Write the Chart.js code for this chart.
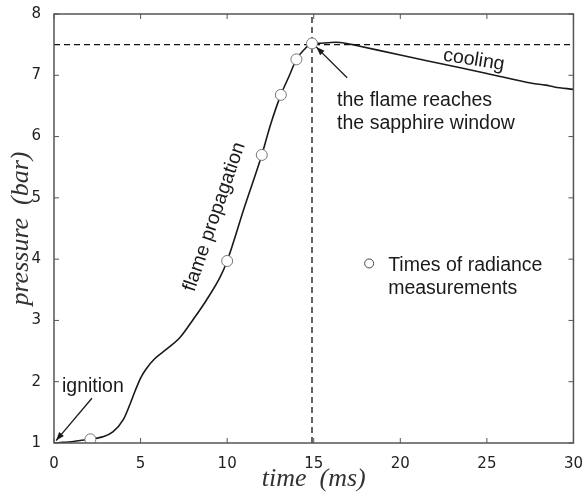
<!DOCTYPE html>
<html lang="en">
  <head>
    <meta charset="UTF-8" />
    <title>Pressure vs time</title>
    <script src="https://cdn.jsdelivr.net/npm/chart.js@4.4.0/dist/chart.umd.min.js"></script>
    <style>
      body { margin: 0; background: #fff; }
    </style>
  </head>
  <body>
    <canvas id="myChart" width="587" height="497"></canvas>

    <script>
      // pressure trace
      const timeMs = [0, 0.5, 1, 1.5, 2.1, 2.8, 3.4, 4.0, 4.4, 4.7, 5.0, 5.3, 5.8, 6.5, 7.3, 8.0, 8.8, 9.6, 10.0, 11.0, 12.0, 12.5, 13.1, 13.6, 14.0, 14.45, 14.9, 15.3, 15.8, 16.3, 16.9, 17.4, 20, 22.5, 25, 27.6, 28.4, 28.9, 30];
      const pressureBar = [1.0, 1.01, 1.02, 1.04, 1.06, 1.1, 1.18, 1.38, 1.64, 1.86, 2.06, 2.2, 2.37, 2.53, 2.73, 3.0, 3.33, 3.71, 3.97, 4.85, 5.7, 6.19, 6.68, 7.0, 7.26, 7.42, 7.52, 7.52, 7.53, 7.54, 7.52, 7.49, 7.33, 7.18, 7.03, 6.87, 6.84, 6.81, 6.77];

      // times of radiance measurements
      const measTimes = [2.1, 10, 12, 13.1, 14, 14.9];
      const measPressure = [1.06, 3.97, 5.7, 6.68, 7.26, 7.52];

      // flame reaches the window
      const peakTime = 14.9;
      const peakPressure = 7.5;

      const xTicks = [0, 5, 10, 15, 20, 25, 30];
      const yTicks = [1, 2, 3, 4, 5, 6, 7, 8];

      const textFont = '19.5px "Liberation Sans", Arial, sans-serif';

      const toPts = (xs, ys) => xs.map((x, i) => ({ x: x, y: ys[i] }));

      function arrow(ctx, x1, y1, x2, y2) {
        ctx.beginPath();
        ctx.moveTo(x1, y1);
        ctx.lineTo(x2, y2);
        ctx.stroke();
        const a = Math.atan2(y2 - y1, x2 - x1);
        const h = 9;
        ctx.beginPath();
        ctx.moveTo(x2, y2);
        ctx.lineTo(x2 - h * Math.cos(a - 0.35), y2 - h * Math.sin(a - 0.35));
        ctx.lineTo(x2 - h * Math.cos(a + 0.35), y2 - h * Math.sin(a + 0.35));
        ctx.closePath();
        ctx.fill();
      }

      const decorations = {
        id: "decorations",
        afterDraw(chart) {
          const ctx = chart.ctx;
          const xs = chart.scales.x;
          const ys = chart.scales.y;
          const a = chart.chartArea;
          ctx.save();

          // frame + inward ticks
          ctx.strokeStyle = "#555";
          ctx.lineWidth = 1.5;
          ctx.strokeRect(a.left, a.top, a.right - a.left, a.bottom - a.top);
          ctx.lineWidth = 1;
          xTicks.forEach((t) => {
            const px = xs.getPixelForValue(t);
            ctx.beginPath();
            ctx.moveTo(px, a.bottom);
            ctx.lineTo(px, a.bottom - 5);
            ctx.moveTo(px, a.top);
            ctx.lineTo(px, a.top + 5);
            ctx.stroke();
          });
          yTicks.forEach((t) => {
            const py = ys.getPixelForValue(t);
            ctx.beginPath();
            ctx.moveTo(a.left, py);
            ctx.lineTo(a.left + 5, py);
            ctx.moveTo(a.right, py);
            ctx.lineTo(a.right - 5, py);
            ctx.stroke();
          });

          // annotations
          ctx.fillStyle = "#1a1a1a";
          ctx.strokeStyle = "#1a1a1a";
          ctx.font = textFont;
          ctx.textBaseline = "alphabetic";
          ctx.textAlign = "left";
          ctx.fillText("ignition", xs.getPixelForValue(0.46), ys.getPixelForValue(1.84));
          ctx.fillText("the flame reaches", xs.getPixelForValue(16.35), ys.getPixelForValue(6.5));
          ctx.fillText("the sapphire window", xs.getPixelForValue(16.35), ys.getPixelForValue(6.13));
          ctx.fillText("Times of radiance", xs.getPixelForValue(19.3), ys.getPixelForValue(3.8));
          ctx.fillText("measurements", xs.getPixelForValue(19.3), ys.getPixelForValue(3.43));

          ctx.lineWidth = 1.3;
          arrow(ctx, xs.getPixelForValue(2.19), ys.getPixelForValue(1.73), xs.getPixelForValue(0.12), ys.getPixelForValue(1.04));
          arrow(ctx, xs.getPixelForValue(16.93), ys.getPixelForValue(6.96), xs.getPixelForValue(15.15), ys.getPixelForValue(7.46));

          // legend marker
          ctx.beginPath();
          ctx.arc(xs.getPixelForValue(18.2), ys.getPixelForValue(3.93), 4.5, 0, Math.PI * 2);
          ctx.fillStyle = "#fff";
          ctx.fill();
          ctx.strokeStyle = "#444";
          ctx.lineWidth = 1;
          ctx.stroke();

          // rotated labels
          ctx.fillStyle = "#1a1a1a";
          ctx.textAlign = "center";
          ctx.textBaseline = "middle";
          ctx.save();
          ctx.translate(xs.getPixelForValue(9.27), ys.getPixelForValue(4.69));
          ctx.rotate((-71 * Math.PI) / 180);
          ctx.fillText("flame propagation", 0, 0);
          ctx.restore();

          ctx.save();
          ctx.translate(xs.getPixelForValue(24.25), ys.getPixelForValue(7.25));
          ctx.rotate((9 * Math.PI) / 180);
          ctx.fillText("cooling", 0, 0);
          ctx.restore();

          ctx.restore();
        },
      };

      const ctx = document.getElementById("myChart").getContext("2d");
      const myChart = new Chart(ctx, {
        type: "scatter",
        data: {
          datasets: [
            {
              label: "peak level",
              data: [{ x: 0, y: peakPressure }, { x: 30, y: peakPressure }],
              showLine: true,
              borderColor: "#111",
              borderWidth: 1.3,
              borderDash: [6, 4],
              pointRadius: 0,
            },
            {
              label: "peak time",
              data: [{ x: peakTime, y: 1 }, { x: peakTime, y: 8 }],
              showLine: true,
              borderColor: "#111",
              borderWidth: 1.3,
              borderDash: [6, 4],
              pointRadius: 0,
            },
            {
              label: "Times of radiance measurements",
              data: toPts(measTimes, measPressure),
              pointRadius: 5.5,
              pointBackgroundColor: "#fff",
              pointBorderColor: "#777",
              pointBorderWidth: 1,
              order: -1,
            },
            {
              label: "pressure",
              data: toPts(timeMs, pressureBar),
              showLine: true,
              borderColor: "#1a1a1a",
              borderWidth: 1.6,
              pointRadius: 0,
              cubicInterpolationMode: "monotone",
            },
          ],
        },
        options: {
          responsive: false,
          animation: false,
          layout: { padding: { left: 0, right: 12, top: 14, bottom: 0 } },
          plugins: { legend: { display: false }, tooltip: { enabled: false } },
          scales: {
            x: {
              type: "linear",
              min: 0,
              max: 30,
              afterBuildTicks: (s) => { s.ticks = xTicks.map((v) => ({ value: v })); },
              afterFit: (s) => { s.height = 54; },
              grid: { display: false },
              border: { display: false },
              ticks: { padding: 4, color: "#222", font: { family: "DejaVu Sans", size: 15 } },
              title: {
                display: true,
                text: "time  (ms)",
                color: "#333",
                padding: { top: 0, bottom: 2 },
                font: { family: "Liberation Serif", style: "italic", size: 26 },
              },
            },
            y: {
              type: "linear",
              min: 1,
              max: 8,
              afterBuildTicks: (s) => { s.ticks = yTicks.map((v) => ({ value: v })); },
              afterFit: (s) => { s.width = 54; },
              grid: { display: false },
              border: { display: false },
              ticks: { padding: 5, color: "#222", font: { family: "DejaVu Sans", size: 15 } },
              title: {
                display: true,
                text: "pressure  (bar)",
                color: "#333",
                padding: { top: 6, bottom: 0 },
                font: { family: "Liberation Serif", style: "italic", size: 26 },
              },
            },
          },
        },
        plugins: [decorations],
      });
    </script>
  </body>
</html>
